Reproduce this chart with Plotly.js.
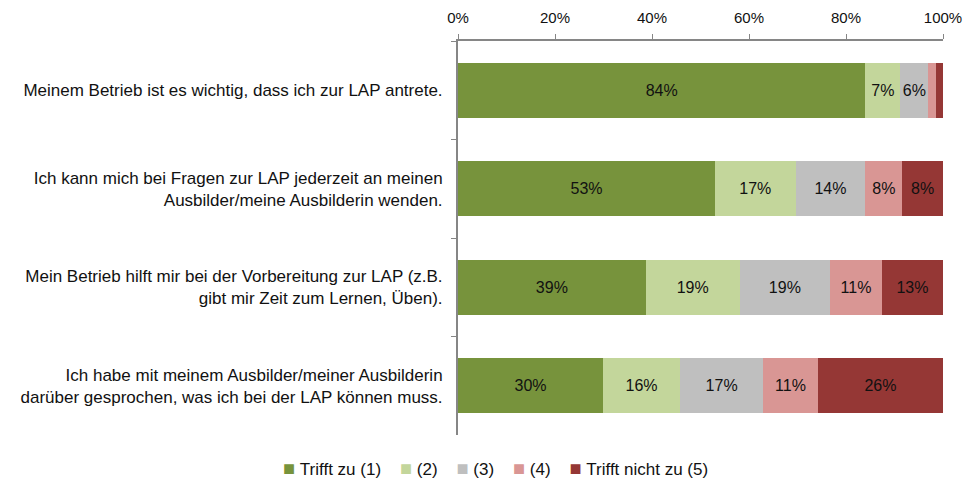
<!DOCTYPE html>
<html><head><meta charset="utf-8">
<script src="https://cdn.plot.ly/plotly-3.0.1.min.js"></script>
<style>html,body{margin:0;padding:0;background:#fff}#chart{width:970px;height:481px}</style>
</head><body><div id="chart"></div>
<script>
const categories = [
  "Meinem Betrieb ist es wichtig, dass ich zur LAP antrete.",
  "Ich kann mich bei Fragen zur LAP jederzeit an meinen<br>Ausbilder/meine Ausbilderin wenden.",
  "Mein Betrieb hilft mir bei der Vorbereitung zur LAP (z.B.<br>gibt mir Zeit zum Lernen, Üben).",
  "Ich habe mit meinem Ausbilder/meiner Ausbilderin<br>darüber gesprochen, was ich bei der LAP können muss."
];
const seriesNames = ["Trifft zu (1)", "(2)", "(3)", "(4)", "Trifft nicht zu (5)"];
const s1 = [84.0, 53.0, 38.7, 29.9];
const s2 = [7.2, 16.6, 19.4, 15.9];
const s3 = [5.8, 14.4, 18.6, 17.1];
const s4 = [1.6, 7.6, 10.7, 11.3];
const s5 = [1.4, 8.4, 12.6, 25.8];
const xTicks = [0, 20, 40, 60, 80, 100];
const colors = ["#77933C", "#C3D69B", "#BFBFBF", "#D99694", "#953735"];
const FONT = "'Liberation Sans', Arial, sans-serif";
const NB = "\u00A0";

const series = [s1, s2, s3, s4, s5];
const traces = series.map((vals, i) => ({
  type: "bar",
  orientation: "h",
  name: seriesNames[i],
  y: categories,
  x: vals,
  marker: {color: colors[i], line: {width: 0}},
  text: vals.map(v => v >= 3 ? Math.round(v) + "%" : ""),
  textposition: "inside",
  insidetextanchor: "middle",
  constraintext: "none",
  textangle: 0,
  textfont: {family: FONT, size: 16, color: "#111"},
  hoverinfo: "x+name",
  showlegend: false
}));

// custom legend built from series names and colours
const legendText = seriesNames.map((n, i) =>
  `<span style="color:${colors[i]};font-size:20px">■</span>${NB}${n}`).join(NB + NB + NB + NB);

const layout = {
  width: 970, height: 481,
  barmode: "stack",
  bargap: 0.44,
  margin: {l: 458, r: 27, t: 41, b: 46},
  paper_bgcolor: "#fff", plot_bgcolor: "#fff",
  font: {family: FONT, size: 15, color: "#111"},
  xaxis: {
    side: "top", range: [0, 100], tickvals: xTicks, ticktext: xTicks.map(v => v + "%"),
    showgrid: false, zeroline: false, showline: true, linecolor: "#868686", linewidth: 2,
    ticks: "outside", ticklen: 5, tickcolor: "#868686", tickwidth: 1,
    tickfont: {family: FONT, size: 15, color: "#111"}, ticklabelstandoff: 5, fixedrange: true
  },
  yaxis: {
    autorange: "reversed", type: "category",
    showgrid: false, zeroline: false, showline: true, linecolor: "#868686", linewidth: 2,
    ticks: "outside", ticklen: 5, tickcolor: "#868686", tickson: "boundaries",
    tickfont: {family: FONT, size: 17, color: "#111"}, ticklabelstandoff: 10
  },
  annotations: [{
    xref: "paper", yref: "paper", x: (495 - 458) / 485, y: (435 - 468) / 394,
    xanchor: "center", yanchor: "middle", showarrow: false,
    text: legendText, font: {family: FONT, size: 17, color: "#111"}
  }],
  showlegend: false
};

Plotly.newPlot("chart", traces, layout, {displayModeBar: false, staticPlot: true});
</script></body></html>
